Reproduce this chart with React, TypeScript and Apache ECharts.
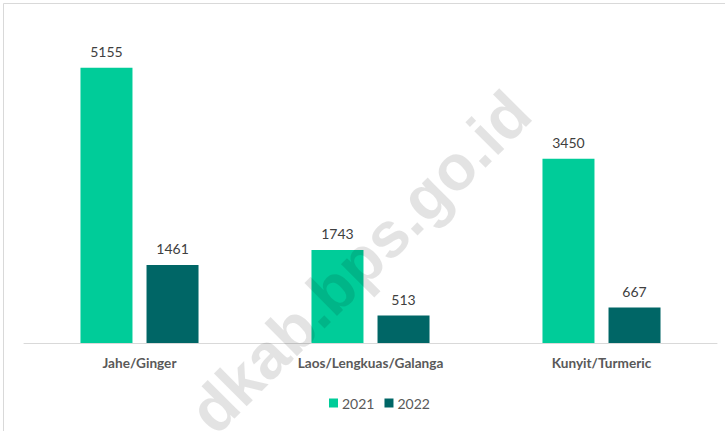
import React, { useEffect, useRef } from "react";
import * as echarts from "echarts";

const categories = ["Jahe/Ginger", "Laos/Lengkuas/Galanga", "Kunyit/Turmeric"];
const values2021 = [5155, 1743, 3450];
const values2022 = [1461, 513, 667];
const seriesNames = ["2021", "2022"];
const watermarkText = "dkab.bps.go.id";

export default function App() {
  const ref = useRef<HTMLDivElement>(null);
  useEffect(() => {
    document.body.style.margin = "0";
    if (!ref.current) return;
    const chart = echarts.init(ref.current, null, { renderer: "svg" });
    const font = "Lato, 'Open Sans', sans-serif";
    const labelCfg = {
      show: true,
      position: "top" as const,
      distance: 9,
      color: "#404040",
      fontSize: 14,
      fontFamily: font,
    };
    chart.setOption({
      animation: false,
      backgroundColor: "#ffffff",
      grid: { left: 24, right: 8, top: 22.6, bottom: 88, containLabel: false },
      legend: {
        data: seriesNames,
        left: 329,
        top: 396,
        itemWidth: 9,
        itemHeight: 9,
        itemGap: 10,
        icon: "rect",
        textStyle: { color: "#595959", fontSize: 14, fontFamily: font, padding: [0, 0, 0, -1] },
        padding: 0,
      },
      xAxis: {
        type: "category",
        data: categories,
        axisLine: { show: true, lineStyle: { color: "#d9d9d9", width: 1 } },
        axisTick: { show: false },
        axisLabel: {
          color: "#595959",
          fontWeight: "bold",
          fontSize: 13.6,
          fontFamily: font,
          margin: 13,
        },
      },
      yAxis: {
        type: "value",
        min: 0,
        max: 6000,
        show: false,
        splitLine: { show: false },
      },
      series: [
        {
          name: seriesNames[0],
          type: "bar",
          data: values2021,
          barWidth: 52,
          barGap: "27%",
          itemStyle: { color: "#00CC99" },
          label: labelCfg,
        },
        {
          name: seriesNames[1],
          type: "bar",
          data: values2022,
          barWidth: 52,
          itemStyle: { color: "#006666" },
          label: labelCfg,
        },
      ],
      graphic: [
        {
          type: "rect",
          shape: { x: 3.5, y: 3.5, width: 800, height: 500 },
          style: { fill: "none", stroke: "#d9d9d9", lineWidth: 1 },
          silent: true,
          z: 0,
        },
        {
          type: "text",
          x: 360,
          y: 262,
          rotation: (45 * Math.PI) / 180,
          style: {
            text: watermarkText,
            fill: "rgba(0,0,0,0.11)",
            font: "bold 64px 'Liberation Sans', Arial, sans-serif",
            align: "center",
            verticalAlign: "middle",
          },
          silent: true,
          z: 100,
        },
      ],
    });
    return () => chart.dispose();
  }, []);
  return <div ref={ref} style={{ width: 725, height: 431 }} />;
}
